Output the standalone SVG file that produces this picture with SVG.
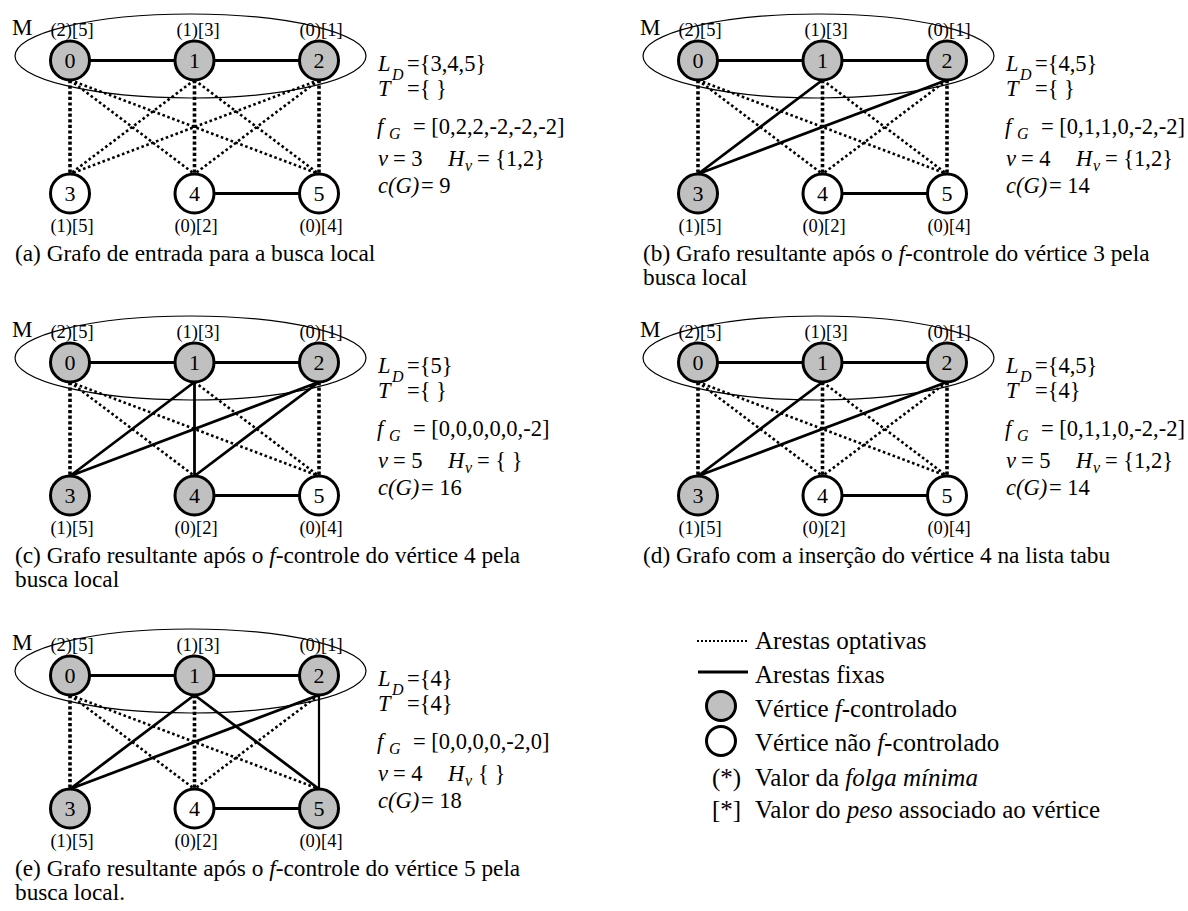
<svg xmlns="http://www.w3.org/2000/svg" width="1188" height="911" viewBox="0 0 1188 911">
<style>
  text{font-family:"Liberation Serif","Times New Roman",serif;fill:#000}
  .ell{fill:none;stroke:#000;stroke-width:1.2}
  .v circle{stroke:#000;stroke-width:3}
  .on circle{fill:#c0c0c0}
  .off circle{fill:#fff}
  .v text{font-size:22px;text-anchor:middle}
  .v text.lab{font-size:18.5px}
  .m{font-size:23px}
  .fix{fill:none;stroke:#000;stroke-width:2.8}
  .fix-thin{fill:none;stroke:#000;stroke-width:2.2}
  .opt{fill:none;stroke:#000;stroke-width:2.6;stroke-dasharray:2.6 2.6}
  .optv{fill:none;stroke:#000;stroke-width:3.6;stroke-dasharray:3.2 2.4}
  .eq{font-size:22.5px}
  .i{font-style:italic}
  .sub{font-size:16px}
  .cap{font-size:23.3px}
  .leg{font-size:25px}
  .lg-dot{fill:none;stroke:#000;stroke-width:2;stroke-dasharray:2 2}
  .lg-fix{fill:none;stroke:#000;stroke-width:3}
</style>

<!-- panel a: input graph -->
<g id="panel-a">
  <ellipse class="ell" cx="190.5" cy="56" rx="175.5" ry="42"/>
  <text class="m" x="12" y="35">M</text>
  <g id="a-edges">
    <path class="fix" d="M70 60.5H194.5M194.5 60.5H319M194.5 193.5H319"/>
    <path class="optv" d="M70 80V174M194.5 80V174M319 80V174"/>
    <path class="opt" d="M70 80L194.5 174M70 80L319 174M194.5 80L70 174M194.5 80L319 174M319 80L70 174M319 80L194.5 174"/>
  </g>
  <g id="a-v0" class="v on"><circle cx="70" cy="60.5" r="19.5"/><text x="70" y="68">0</text><text class="lab" x="72" y="36">(2)[5]</text></g>
  <g id="a-v1" class="v on"><circle cx="194.5" cy="60.5" r="19.5"/><text x="194.5" y="68">1</text><text class="lab" x="198" y="36">(1)[3]</text></g>
  <g id="a-v2" class="v on"><circle cx="319" cy="60.5" r="19.5"/><text x="319" y="68">2</text><text class="lab" x="321" y="36">(0)[1]</text></g>
  <g id="a-v3" class="v off"><circle cx="70" cy="193.5" r="19.5"/><text x="70" y="201">3</text><text class="lab" x="72" y="232">(1)[5]</text></g>
  <g id="a-v4" class="v off"><circle cx="194.5" cy="193.5" r="19.5"/><text x="194.5" y="201">4</text><text class="lab" x="196" y="232">(0)[2]</text></g>
  <g id="a-v5" class="v off"><circle cx="319" cy="193.5" r="19.5"/><text x="319" y="201">5</text><text class="lab" x="321" y="232">(0)[4]</text></g>
  <g id="a-info" class="eq">
    <text y="71"><tspan x="378" class="i">L</tspan><tspan x="392" y="80" class="i sub">D</tspan><tspan x="407" y="71">={3,4,5}</tspan></text>
    <text y="96"><tspan x="378" class="i">T</tspan><tspan x="407">={ }</tspan></text>
    <text y="134"><tspan x="377" class="i">f</tspan><tspan x="389" y="139" class="i sub">G</tspan><tspan x="413" y="134">= [0,2,2,-2,-2,-2]</tspan></text>
    <text y="166"><tspan x="378" class="i">v</tspan><tspan x="393">= 3</tspan><tspan x="448" class="i">H</tspan><tspan x="465" y="171" class="i sub">v</tspan><tspan x="477" y="166">= {1,2}</tspan></text>
    <text y="193"><tspan x="378" class="i">c(G)</tspan><tspan x="421">= 9</tspan></text>
  </g>
  <text class="cap" x="15" y="261">(a) Grafo de entrada para a busca local</text>
</g>

<!-- panel b: after f-control of vertex 3 -->
<g id="panel-b" transform="translate(628,0)">
  <ellipse class="ell" cx="190.5" cy="56" rx="175.5" ry="42"/>
  <text class="m" x="12" y="35">M</text>
  <g id="b-edges">
    <path class="fix" d="M70 60.5H194.5M194.5 60.5H319M194.5 193.5H319M194.5 80L70 174M319 80L70 174"/>
    <path class="optv" d="M70 80V174M194.5 80V174M319 80V174"/>
    <path class="opt" d="M70 80L194.5 174M70 80L319 174M194.5 80L319 174M319 80L194.5 174"/>
  </g>
  <g id="b-v0" class="v on"><circle cx="70" cy="60.5" r="19.5"/><text x="70" y="68">0</text><text class="lab" x="72" y="36">(2)[5]</text></g>
  <g id="b-v1" class="v on"><circle cx="194.5" cy="60.5" r="19.5"/><text x="194.5" y="68">1</text><text class="lab" x="198" y="36">(1)[3]</text></g>
  <g id="b-v2" class="v on"><circle cx="319" cy="60.5" r="19.5"/><text x="319" y="68">2</text><text class="lab" x="321" y="36">(0)[1]</text></g>
  <g id="b-v3" class="v on"><circle cx="70" cy="193.5" r="19.5"/><text x="70" y="201">3</text><text class="lab" x="72" y="232">(1)[5]</text></g>
  <g id="b-v4" class="v off"><circle cx="194.5" cy="193.5" r="19.5"/><text x="194.5" y="201">4</text><text class="lab" x="196" y="232">(0)[2]</text></g>
  <g id="b-v5" class="v off"><circle cx="319" cy="193.5" r="19.5"/><text x="319" y="201">5</text><text class="lab" x="321" y="232">(0)[4]</text></g>
  <g id="b-info" class="eq">
    <text y="71"><tspan x="378" class="i">L</tspan><tspan x="392" y="80" class="i sub">D</tspan><tspan x="407" y="71">={4,5}</tspan></text>
    <text y="96"><tspan x="378" class="i">T</tspan><tspan x="407">={ }</tspan></text>
    <text y="134"><tspan x="377" class="i">f</tspan><tspan x="389" y="139" class="i sub">G</tspan><tspan x="413" y="134">= [0,1,1,0,-2,-2]</tspan></text>
    <text y="166"><tspan x="378" class="i">v</tspan><tspan x="393">= 4</tspan><tspan x="448" class="i">H</tspan><tspan x="465" y="171" class="i sub">v</tspan><tspan x="477" y="166">= {1,2}</tspan></text>
    <text y="193"><tspan x="378" class="i">c(G)</tspan><tspan x="421">= 14</tspan></text>
  </g>
  <text class="cap" x="15" y="261">(b) Grafo resultante após o <tspan class="i">f</tspan>-controle do vértice 3 pela</text>
  <text class="cap" x="15" y="285">busca local</text>
</g>

<!-- panel c: after f-control of vertex 4 -->
<g id="panel-c" transform="translate(0,302)">
  <ellipse class="ell" cx="190.5" cy="56" rx="175.5" ry="42"/>
  <text class="m" x="12" y="35">M</text>
  <g id="c-edges">
    <path class="fix" d="M70 60.5H194.5M194.5 60.5H319M194.5 193.5H319M194.5 80L70 174M319 80L70 174M194.5 80V174M319 80L194.5 174"/>
    <path class="optv" d="M70 80V174M319 80V174"/>
    <path class="opt" d="M70 80L194.5 174M70 80L319 174M194.5 80L319 174"/>
  </g>
  <g id="c-v0" class="v on"><circle cx="70" cy="60.5" r="19.5"/><text x="70" y="68">0</text><text class="lab" x="72" y="36">(2)[5]</text></g>
  <g id="c-v1" class="v on"><circle cx="194.5" cy="60.5" r="19.5"/><text x="194.5" y="68">1</text><text class="lab" x="198" y="36">(1)[3]</text></g>
  <g id="c-v2" class="v on"><circle cx="319" cy="60.5" r="19.5"/><text x="319" y="68">2</text><text class="lab" x="321" y="36">(0)[1]</text></g>
  <g id="c-v3" class="v on"><circle cx="70" cy="193.5" r="19.5"/><text x="70" y="201">3</text><text class="lab" x="72" y="232">(1)[5]</text></g>
  <g id="c-v4" class="v on"><circle cx="194.5" cy="193.5" r="19.5"/><text x="194.5" y="201">4</text><text class="lab" x="196" y="232">(0)[2]</text></g>
  <g id="c-v5" class="v off"><circle cx="319" cy="193.5" r="19.5"/><text x="319" y="201">5</text><text class="lab" x="321" y="232">(0)[4]</text></g>
  <g id="c-info" class="eq">
    <text y="71"><tspan x="378" class="i">L</tspan><tspan x="392" y="80" class="i sub">D</tspan><tspan x="407" y="71">={5}</tspan></text>
    <text y="96"><tspan x="378" class="i">T</tspan><tspan x="407">={ }</tspan></text>
    <text y="134"><tspan x="377" class="i">f</tspan><tspan x="389" y="139" class="i sub">G</tspan><tspan x="413" y="134">= [0,0,0,0,0,-2]</tspan></text>
    <text y="166"><tspan x="378" class="i">v</tspan><tspan x="393">= 5</tspan><tspan x="448" class="i">H</tspan><tspan x="465" y="171" class="i sub">v</tspan><tspan x="477" y="166">= { }</tspan></text>
    <text y="193"><tspan x="378" class="i">c(G)</tspan><tspan x="421">= 16</tspan></text>
  </g>
  <text class="cap" x="15" y="261">(c) Grafo resultante após o <tspan class="i">f</tspan>-controle do vértice 4 pela</text>
  <text class="cap" x="15" y="285">busca local</text>
</g>

<!-- panel d: vertex 4 inserted in the tabu list -->
<g id="panel-d" transform="translate(628,302)">
  <ellipse class="ell" cx="190.5" cy="56" rx="175.5" ry="42"/>
  <text class="m" x="12" y="35">M</text>
  <g id="d-edges">
    <path class="fix" d="M70 60.5H194.5M194.5 60.5H319M194.5 193.5H319M194.5 80L70 174M319 80L70 174"/>
    <path class="optv" d="M70 80V174M194.5 80V174M319 80V174"/>
    <path class="opt" d="M70 80L194.5 174M70 80L319 174M194.5 80L319 174M319 80L194.5 174"/>
  </g>
  <g id="d-v0" class="v on"><circle cx="70" cy="60.5" r="19.5"/><text x="70" y="68">0</text><text class="lab" x="72" y="36">(2)[5]</text></g>
  <g id="d-v1" class="v on"><circle cx="194.5" cy="60.5" r="19.5"/><text x="194.5" y="68">1</text><text class="lab" x="198" y="36">(1)[3]</text></g>
  <g id="d-v2" class="v on"><circle cx="319" cy="60.5" r="19.5"/><text x="319" y="68">2</text><text class="lab" x="321" y="36">(0)[1]</text></g>
  <g id="d-v3" class="v on"><circle cx="70" cy="193.5" r="19.5"/><text x="70" y="201">3</text><text class="lab" x="72" y="232">(1)[5]</text></g>
  <g id="d-v4" class="v off"><circle cx="194.5" cy="193.5" r="19.5"/><text x="194.5" y="201">4</text><text class="lab" x="196" y="232">(0)[2]</text></g>
  <g id="d-v5" class="v off"><circle cx="319" cy="193.5" r="19.5"/><text x="319" y="201">5</text><text class="lab" x="321" y="232">(0)[4]</text></g>
  <g id="d-info" class="eq">
    <text y="71"><tspan x="378" class="i">L</tspan><tspan x="392" y="80" class="i sub">D</tspan><tspan x="407" y="71">={4,5}</tspan></text>
    <text y="96"><tspan x="378" class="i">T</tspan><tspan x="407">={4}</tspan></text>
    <text y="134"><tspan x="377" class="i">f</tspan><tspan x="389" y="139" class="i sub">G</tspan><tspan x="413" y="134">= [0,1,1,0,-2,-2]</tspan></text>
    <text y="166"><tspan x="378" class="i">v</tspan><tspan x="393">= 5</tspan><tspan x="448" class="i">H</tspan><tspan x="465" y="171" class="i sub">v</tspan><tspan x="477" y="166">= {1,2}</tspan></text>
    <text y="193"><tspan x="378" class="i">c(G)</tspan><tspan x="421">= 14</tspan></text>
  </g>
  <text class="cap" x="15" y="261">(d) Grafo com a inserção do vértice 4 na lista tabu</text>
</g>

<!-- panel e: after f-control of vertex 5 -->
<g id="panel-e" transform="translate(0,615)">
  <ellipse class="ell" cx="190.5" cy="56" rx="175.5" ry="42"/>
  <text class="m" x="12" y="35">M</text>
  <g id="e-edges">
    <path class="fix" d="M70 60.5H194.5M194.5 60.5H319M194.5 193.5H319M194.5 80L70 174M319 80L70 174M194.5 80L319 174"/>
    <path class="fix-thin" d="M319 80V174"/>
    <path class="optv" d="M70 80V174M194.5 80V174"/>
    <path class="opt" d="M70 80L194.5 174M70 80L319 174M319 80L194.5 174"/>
  </g>
  <g id="e-v0" class="v on"><circle cx="70" cy="60.5" r="19.5"/><text x="70" y="68">0</text><text class="lab" x="72" y="36">(2)[5]</text></g>
  <g id="e-v1" class="v on"><circle cx="194.5" cy="60.5" r="19.5"/><text x="194.5" y="68">1</text><text class="lab" x="198" y="36">(1)[3]</text></g>
  <g id="e-v2" class="v on"><circle cx="319" cy="60.5" r="19.5"/><text x="319" y="68">2</text><text class="lab" x="321" y="36">(0)[1]</text></g>
  <g id="e-v3" class="v on"><circle cx="70" cy="193.5" r="19.5"/><text x="70" y="201">3</text><text class="lab" x="72" y="232">(1)[5]</text></g>
  <g id="e-v4" class="v off"><circle cx="194.5" cy="193.5" r="19.5"/><text x="194.5" y="201">4</text><text class="lab" x="196" y="232">(0)[2]</text></g>
  <g id="e-v5" class="v on"><circle cx="319" cy="193.5" r="19.5"/><text x="319" y="201">5</text><text class="lab" x="321" y="232">(0)[4]</text></g>
  <g id="e-info" class="eq">
    <text y="71"><tspan x="378" class="i">L</tspan><tspan x="392" y="80" class="i sub">D</tspan><tspan x="407" y="71">={4}</tspan></text>
    <text y="96"><tspan x="378" class="i">T</tspan><tspan x="407">={4}</tspan></text>
    <text y="134"><tspan x="377" class="i">f</tspan><tspan x="389" y="139" class="i sub">G</tspan><tspan x="413" y="134">= [0,0,0,0,-2,0]</tspan></text>
    <text y="166"><tspan x="378" class="i">v</tspan><tspan x="393">= 4</tspan><tspan x="448" class="i">H</tspan><tspan x="465" y="171" class="i sub">v</tspan><tspan x="478" y="166">{ }</tspan></text>
    <text y="193"><tspan x="378" class="i">c(G)</tspan><tspan x="421">= 18</tspan></text>
  </g>
  <text class="cap" x="15" y="261">(e) Grafo resultante após o <tspan class="i">f</tspan>-controle do vértice 5 pela</text>
  <text class="cap" x="15" y="285">busca local.</text>
</g>

<!-- legend -->
<g id="legend" class="leg">
  <line class="lg-dot" x1="697" y1="641" x2="748" y2="641"/>
  <text x="755" y="649">Arestas optativas</text>
  <line class="lg-fix" x1="698" y1="672" x2="748" y2="672"/>
  <text x="755" y="683">Arestas fixas</text>
  <g class="v on"><circle cx="721" cy="706" r="14.5"/></g>
  <text x="755" y="717">Vértice <tspan class="i">f</tspan>-controlado</text>
  <g class="v off"><circle cx="721" cy="741" r="14.5"/></g>
  <text x="755" y="751">Vértice não <tspan class="i">f</tspan>-controlado</text>
  <text x="712" y="786">(*)</text>
  <text x="755" y="786">Valor da <tspan class="i">folga mínima</tspan></text>
  <text x="712" y="818">[*]</text>
  <text x="755" y="818">Valor do <tspan class="i">peso</tspan> associado ao vértice</text>
</g>
</svg>
